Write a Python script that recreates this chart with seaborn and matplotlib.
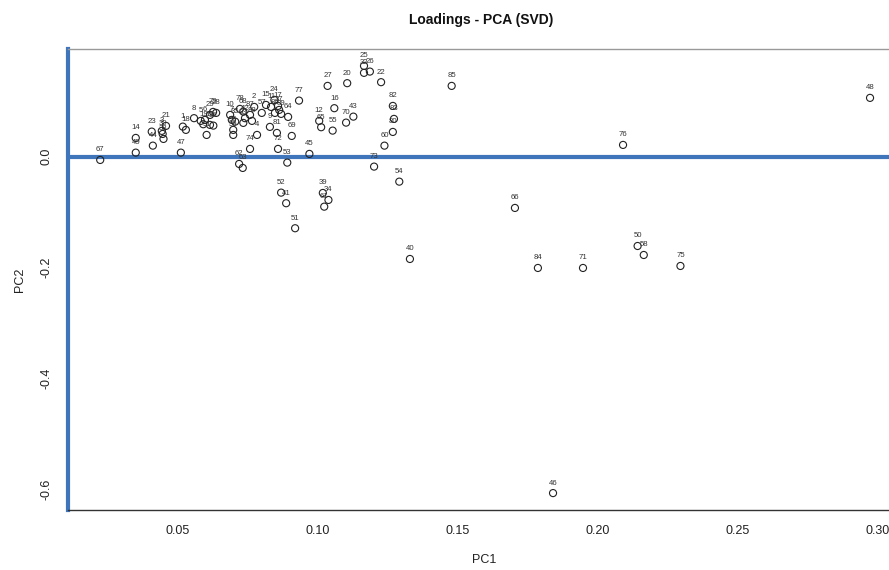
import matplotlib
matplotlib.use("Agg")
import matplotlib.pyplot as plt
import seaborn as sns
import pandas as pd

labels = ["67", "14", "49", "23", "44", "3", "30", "38", "21", "47", "1", "18", "8", "5", "6", "29",
          "79", "28", "19", "13", "36", "31", "10", "78", "68", "7", "35", "56", "59", "42", "33",
          "87", "88", "2", "57", "24", "15", "11", "17", "37", "86", "89", "64", "77", "9", "81",
          "69", "4", "74", "72", "53", "62", "63", "52", "41", "51", "39", "34", "61", "45", "73",
          "54", "60", "25", "32", "26", "22", "27", "20", "16", "43", "70", "12", "65", "55", "82",
          "83", "80", "85", "48", "76", "66", "40", "50", "58", "84", "71", "75", "46"]
pc1 = [0.0224, 0.0351, 0.0351, 0.0408, 0.0412, 0.0444, 0.0447, 0.0450, 0.0459, 0.0512, 0.0519,
       0.0530, 0.0559, 0.0583, 0.0598, 0.0616, 0.0627, 0.0638, 0.0592, 0.0616, 0.0628, 0.0604,
       0.0688, 0.0723, 0.0735, 0.0694, 0.0706, 0.0699, 0.0699, 0.0741, 0.0735, 0.0759, 0.0766,
       0.0774, 0.0801, 0.0846, 0.0816, 0.0834, 0.0859, 0.0863, 0.0848, 0.0870, 0.0895, 0.0934,
       0.0830, 0.0855, 0.0908, 0.0784, 0.0759, 0.0859, 0.0892, 0.0720, 0.0733, 0.0870, 0.0888,
       0.0920, 0.1019, 0.1039, 0.1024, 0.0971, 0.1202, 0.1292, 0.1239, 0.1166, 0.1166, 0.1187,
       0.1227, 0.1036, 0.1106, 0.1060, 0.1128, 0.1102, 0.1006, 0.1013, 0.1054, 0.1269, 0.1273,
       0.1269, 0.1479, 0.2973, 0.2091, 0.1705, 0.1330, 0.2143, 0.2165, 0.1787, 0.1948, 0.2296,
       0.1841]
pc2 = [-0.0060, 0.0337, 0.0072, 0.0451, 0.0198, 0.0464, 0.0409, 0.0319, 0.0554, 0.0072, 0.0541,
       0.0482, 0.0693, 0.0644, 0.0662, 0.0752, 0.0806, 0.0788, 0.0584, 0.0572, 0.0559, 0.0391,
       0.0752, 0.0860, 0.0812, 0.0662, 0.0631, 0.0482, 0.0391, 0.0693, 0.0608, 0.0752, 0.0644,
       0.0896, 0.0788, 0.1023, 0.0932, 0.0896, 0.0914, 0.0842, 0.0788, 0.0770, 0.0716, 0.1010,
       0.0536, 0.0427, 0.0373, 0.0391, 0.0139, 0.0139, -0.0108, -0.0132, -0.0204, -0.0649,
       -0.0840, -0.1291, -0.0655, -0.0781, -0.0902, 0.0049, -0.0180, -0.0451, 0.0198, 0.1636,
       0.1510, 0.1533, 0.1342, 0.1275, 0.1324, 0.0873, 0.0721, 0.0613, 0.0644, 0.0530, 0.0469,
       0.0914, 0.0680, 0.0445, 0.1275, 0.1059, 0.0211, -0.0925, -0.1845, -0.1611, -0.1773,
       -0.2007, -0.2007, -0.1971, -0.6065]

x_ticks = [0.05, 0.10, 0.15, 0.20, 0.25, 0.30]
x_tick_labels = ["0.05", "0.10", "0.15", "0.20", "0.25", "0.30"]
y_ticks = [0.0, -0.2, -0.4, -0.6]
y_tick_labels = ["0.0", "-0.2", "-0.4", "-0.6"]

sns.set_style("white")
plt.rcParams['font.family'] = ['Liberation Sans', 'DejaVu Sans']

W, H = 889, 570
fig = plt.figure(figsize=(W / 100, H / 100), dpi=100)
ax = fig.add_axes([68 / W, 1 - 510 / H, (900 - 68) / W, (510 - 49) / H])

df = pd.DataFrame({"PC1": pc1, "PC2": pc2, "label": labels})
blue = "#3f75bb"
ax.axhline(0, color=blue, lw=3, zorder=1)
sns.scatterplot(data=df, x="PC1", y="PC2", ax=ax, marker="o", s=26,
                facecolor="none", edgecolor="#222222", linewidth=0.8, zorder=3)

for lab, x, y in zip(labels, pc1, pc2):
    ax.annotate(lab, (x, y), xytext=(0, 7.2), textcoords="offset points",
                ha="center", va="center", fontsize=5.6, color="#333333", zorder=4)

ax.set_xlim(0.0109, 0.3080)
ax.set_ylim(-0.637, 0.194)
ax.set_xticks(x_ticks)
ax.set_xticklabels(x_tick_labels)
ax.set_yticks(y_ticks)
ax.set_yticklabels(y_tick_labels, rotation=90, va="center")
ax.tick_params(axis="both", direction="out", length=5, width=0.8, color="#555555",
               labelsize=9, labelcolor="#222222", pad=6)
ax.set_xlabel("")
ax.set_ylabel("")

for s in ["top", "right"]:
    ax.spines[s].set_color("#999999")
    ax.spines[s].set_linewidth(1)
ax.spines["bottom"].set_color("#333333")
ax.spines["bottom"].set_linewidth(1)
ax.spines["left"].set_color(blue)
ax.spines["left"].set_linewidth(3)

fig.text(481 / W, 1 - 20 / H, "Loadings - PCA (SVD)", ha="center", va="center",
         fontsize=10, fontweight="bold", color="#111111")
fig.text(484 / W, 1 - 560 / H, "PC1", ha="center", va="center", fontsize=9, color="#222222")
fig.text(20 / W, 1 - 280 / H, "PC2", ha="center", va="center", rotation=90, fontsize=9,
         color="#222222")

fig.savefig("out.png", dpi=100)
